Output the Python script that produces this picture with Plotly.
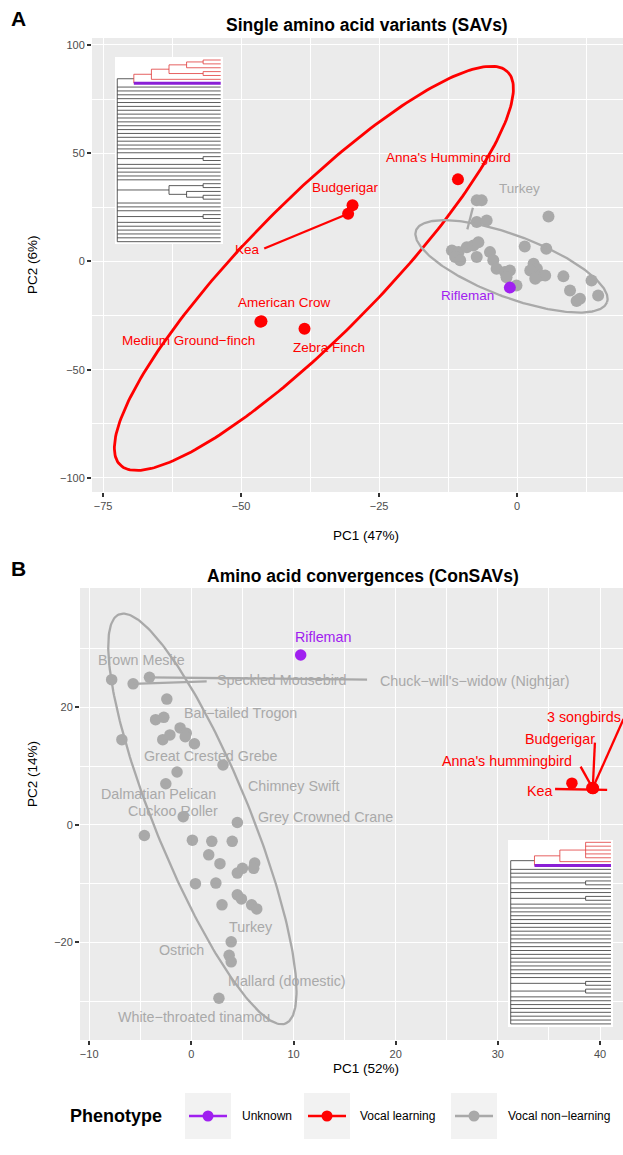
import numpy as np
import plotly.graph_objects as go

W, H = 623, 1155
FONT = "Liberation Sans, Arial, Helvetica, sans-serif"
PANEL = "#EBEBEB"
COL = {"U": "#A020F0", "VL": "#FF0000", "VNL": "#A9A9A9"}
TREE_COL = {"U": "#8A1FD6", "VL": "#E03A3A", "VNL": "#333333"}

# ---------------- Panel A : SAVs ----------------
a_xticks = [-75, -50, -25, 0]
a_yticks = [-100, -50, 0, 50, 100]
a_xminor = [-62.5, -37.5, -12.5, 12.5]
a_yminor = [-75, -25, 25, 75]

a_vl_names = ["Anna's Hummingbird", "Budgerigar", "Kea", "American Crow", "Medium Ground-finch", "Zebra Finch"]
a_vl_pc1 = [-10.7, -29.8, -30.6, -46.3, -46.5, -38.5]
a_vl_pc2 = [37.9, 25.9, 22.0, -27.6, -27.9, -31.1]
a_unk_pc1 = [-1.3]
a_unk_pc2 = [-12.1]
a_vnl_pc1 = [-7.3, -6.4, 5.7, -7.3, -5.5, -11.8, -10.6, -11.2, -10.3, -9.1, -7.9, -7.0, -7.3, -4.9, -4.3,
             -3.7, -2.2, -1.3, -1.9, -0.1, 1.4, 5.3, 3.0, 3.6, 2.4, 4.2, 5.1, 3.3, 8.4, 9.6, 11.4, 10.8, 13.5, 14.7]
a_vnl_pc2 = [28.2, 28.2, 20.8, 18.2, 18.9, 5.1, 4.3, 2.0, 0.5, 6.6, 7.4, 8.9, 2.0, 4.3, 0.5,
             -3.4, -4.9, -4.2, -7.3, -11.1, 6.9, 5.9, -1.1, -3.4, -4.2, -6.5, -6.5, -8.0, -6.9, -13.4, -17.2, -18.3, -8.8, -15.7]

a_lab_text = ["Anna's Hummingbird", "Budgerigar", "Kea", "American Crow", "Medium Ground−finch",
              "Zebra Finch", "Turkey", "Rifleman"]
a_lab_pheno = ["VL", "VL", "VL", "VL", "VL", "VL", "VNL", "U"]
a_lab_pc1 = [-12.5, -31.0, -48.9, -42.2, -59.6, -34.1, 0.5, -8.9]
a_lab_pc2 = [48.0, 34.2, 5.5, -18.9, -36.5, -39.7, 33.7, -15.7]

a_seg_pheno = ["VL", "VNL"]
a_seg_pc1 = [(-45.8, -30.6), (-9.0, -8.0)]
a_seg_pc2 = [(6.0, 22.0), (14.8, 24.8)]

a_ell_pheno = ["VL", "VNL"]
a_ell_centre = [(-36.8, -3.2), (-1.0, -2.3)]
a_ell_axis1 = [(35.1, 90.8), (17.3, -16.6)]
a_ell_axis2 = [(8.64, -21.75), (-1.98, -13.4)]

# ---------------- Panel B : ConSAVs ----------------
b_xticks = [-10, 0, 10, 20, 30, 40]
b_yticks = [-20, 0, 20]
b_xminor = [-5, 5, 15, 25, 35]
b_yminor = [-30, -10, 10, 30]

b_vl_pc1 = [37.25, 39.3, 39.2, 39.35, 39.3, 39.25]
b_vl_pc2 = [7.1, 6.25, 6.3, 6.2, 6.3, 6.2]
b_unk_pc1 = [10.7]
b_unk_pc2 = [28.9]
b_vnl_pc1 = [-7.8, -5.7, -4.1, -2.4, -3.5, -2.7, -6.8, -2.8, -2.1, -1.1, -0.5, -0.6, 0.3, 3.1, -1.4, -2.5,
             -0.8, 4.5, -4.6, 0.1, 2.0, 4.0, 1.7, 2.8, 4.5, 5.0, 6.2, 6.1, 0.4, 2.4, 4.5, 4.9, 5.9, 6.4,
             3.0, 3.9, 3.7, 3.9, 2.7]
b_vnl_pc2 = [24.7, 24.0, 25.1, 21.4, 17.9, 18.3, 14.5, 14.5, 15.3, 16.5, 15.6, 15.0, 13.8, 10.2, 9.0, 7.0,
             1.4, 0.4, -1.8, -2.6, -2.8, -2.8, -5.1, -6.6, -8.2, -7.4, -6.5, -7.4, -10.0, -9.9, -11.9, -12.6,
             -13.6, -14.3, -13.6, -19.9, -22.2, -23.3, -29.5]

b_lab_text = ["Rifleman", "Brown Mesite", "Speckled Mousebird", "Chuck−will's−widow (Nightjar)",
              "Bar−tailed Trogon", "Great Crested Grebe", "Chimney Swift", "Dalmatian Pelican",
              "Cuckoo Roller", "Grey Crowned Crane", "Turkey", "Ostrich", "Mallard (domestic)",
              "White−throated tinamou", "3 songbirds", "Budgerigar", "Anna's hummingbird", "Kea"]
b_lab_pheno = ["U"] + ["VNL"] * 13 + ["VL"] * 4
b_lab_pc1 = [12.9, -4.9, 8.9, 27.7, 4.8, 1.9, 10.0, -3.2, -1.8, 13.1, 5.8, -1.0, 9.4, 0.3,
             38.4, 36.1, 30.9, 34.1]
b_lab_pc2 = [32.0, 28.1, 24.7, 24.5, 19.1, 11.8, 6.6, 5.3, 2.3, 1.3, -17.4, -21.3, -26.5, -32.7,
             18.3, 14.6, 10.8, 5.8]

b_seg_pheno = ["VNL", "VNL", "VL", "VL", "VL", "VL"]
b_seg_pc1 = [(-4.1, 17.2), (-5.7, 1.5), (42.3, 39.3), (39.5, 39.3), (38.1, 39.2), (35.6, 40.7)]
b_seg_pc2 = [(25.1, 24.7), (24.0, 24.4), (18.0, 6.3), (14.0, 6.5), (9.9, 6.5), (6.1, 5.96)]

b_ell_pheno = ["VNL"]
b_ell_centre = [(1.08, 1.02)]
b_ell_axis1 = [(8.15, -34.8)]
b_ell_axis2 = [(4.3, 3.05)]

# ---------------- inset trees (48 species) ----------------
tree_pheno = ["VL"] * 6 + ["U"] + ["VNL"] * 41


def leaves_range(a, b):
    return list(range(a, b))


tree_a = (0.0, [(0.16, [(0.33, [(0.5, [(0.67, [(0.83, [0, 1]), 2]), (0.83, [3, 4])]), 5]), 6])]
          + leaves_range(7, 25) + [(0.83, [25, 26])] + leaves_range(27, 32)
          + [(0.5, [(0.83, [32, 33]), (0.67, [34, (0.83, [35, 36])])])]
          + leaves_range(37, 40) + [(0.83, [40, 41])] + leaves_range(42, 48))

tree_b = (0.0, [(0.237, [(0.49, [(0.747, [0, 1, 2, 3, 4]), 5]), 6])]
          + leaves_range(7, 10) + [(0.747, [10, 11])] + leaves_range(12, 14) + [(0.747, [14, 15])]
          + leaves_range(16, 36) + [(0.747, [36, 37]), (0.747, [38, 39])] + leaves_range(40, 48))

legend_keys = ["U", "VL", "VNL"]
legend_text = ["Unknown", "Vocal learning", "Vocal non−learning"]


# ---------------- helpers ----------------
def px_x(px):
    return px / W


def px_y(py):
    return 1 - py / H


def ellipse(c, a1, a2, n=260):
    t = np.linspace(0, 2 * np.pi, n)
    return (c[0] + np.cos(t) * a1[0] + np.sin(t) * a2[0],
            c[1] + np.cos(t) * a1[1] + np.sin(t) * a2[1])


def clade_info(node):
    if isinstance(node, int):
        return {tree_pheno[node]}
    s = set()
    for ch in node[1]:
        s |= clade_info(ch)
    return s


def draw_tree(node, segs):
    """returns row position of node; collects segments per style"""
    if isinstance(node, int):
        return float(node)
    depth, children = node
    ys = []
    for ch in children:
        y = draw_tree(ch, segs)
        ys.append(y)
        if isinstance(ch, int):
            key = tree_pheno[ch]
            x_end = 1.0
        else:
            ph = clade_info(ch)
            key = list(ph)[0] if len(ph) == 1 else "VNL"
            x_end = ch[0]
        segs.setdefault(key, ([], []))
        segs[key][0].extend([depth, x_end, None])
        segs[key][1].extend([y, y, None])
    ph = clade_info(node)
    vkey = "VNL" if "VNL" in ph else "VL"
    segs.setdefault(vkey, ([], []))
    segs[vkey][0].extend([depth, depth, None])
    segs[vkey][1].extend([min(ys), max(ys), None])
    return (min(ys) + max(ys)) / 2


fig = go.Figure()


def add_points(xa, ya, pc1, pc2, pheno, size):
    fig.add_trace(go.Scatter(x=pc1, y=pc2, mode="markers", xaxis=xa, yaxis=ya,
                             marker=dict(color=COL[pheno], size=size, line=dict(width=0)),
                             showlegend=False, hoverinfo="skip"))


def add_panel(xa, ya, ell_ph, ell_c, ell_a1, ell_a2, seg_ph, seg_x, seg_y,
              vnl, unk, vl, lab_t, lab_ph, lab_x, lab_y, lab_size, pt_size):
    add_points(xa, ya, vnl[0], vnl[1], "VNL", pt_size)
    add_points(xa, ya, vl[0], vl[1], "VL", pt_size)
    add_points(xa, ya, unk[0], unk[1], "U", pt_size)
    for ph, c, a1, a2 in zip(ell_ph, ell_c, ell_a1, ell_a2):
        ex, ey = ellipse(c, a1, a2)
        fig.add_trace(go.Scatter(x=ex, y=ey, mode="lines", xaxis=xa, yaxis=ya,
                                 line=dict(color=COL[ph], width=2.8 if ph == "VL" else 2.3),
                                 showlegend=False, hoverinfo="skip"))
    for ph, sx, sy in zip(seg_ph, seg_x, seg_y):
        fig.add_trace(go.Scatter(x=list(sx), y=list(sy), mode="lines", xaxis=xa, yaxis=ya,
                                 line=dict(color=COL[ph], width=2.3),
                                 showlegend=False, hoverinfo="skip"))
    for t, ph, lx, ly in zip(lab_t, lab_ph, lab_x, lab_y):
        fig.add_annotation(x=lx, y=ly, xref=xa, yref=ya, text=t, showarrow=False,
                           font=dict(family=FONT, size=lab_size, color=COL[ph]))


add_panel("x", "y", a_ell_pheno, a_ell_centre, a_ell_axis1, a_ell_axis2,
          a_seg_pheno, a_seg_pc1, a_seg_pc2,
          (a_vnl_pc1, a_vnl_pc2), (a_unk_pc1, a_unk_pc2), (a_vl_pc1, a_vl_pc2),
          a_lab_text, a_lab_pheno, a_lab_pc1, a_lab_pc2, 13.5, 12)
add_panel("x2", "y2", b_ell_pheno, b_ell_centre, b_ell_axis1, b_ell_axis2,
          b_seg_pheno, b_seg_pc1, b_seg_pc2,
          (b_vnl_pc1, b_vnl_pc2), (b_unk_pc1, b_unk_pc2), (b_vl_pc1, b_vl_pc2),
          b_lab_text, b_lab_pheno, b_lab_pc1, b_lab_pc2, 14.3, 11.5)


def add_tree(tree, xa, ya, xr, yr):
    fig.add_trace(go.Scatter(x=[xr[0], xr[1], xr[1], xr[0], xr[0]],
                             y=[yr[0], yr[0], yr[1], yr[1], yr[0]],
                             fill="toself", fillcolor="white", mode="lines",
                             line=dict(width=0, color="white"), xaxis=xa, yaxis=ya,
                             showlegend=False, hoverinfo="skip"))
    segs = {}
    draw_tree(tree, segs)
    for key in ["VNL", "VL", "U"]:
        if key in segs:
            fig.add_trace(go.Scatter(x=segs[key][0], y=segs[key][1], mode="lines",
                                     xaxis=xa, yaxis=ya,
                                     line=dict(color=TREE_COL[key], width=3 if key == "U" else 0.8),
                                     showlegend=False, hoverinfo="skip"))


inset_a_xr, inset_a_yr = (-0.022, 1.022), (47.6, -0.78)
inset_b_xr, inset_b_yr = (-0.027, 1.02), (47.8, -0.6)
add_tree(tree_a, "x3", "y3", inset_a_xr, inset_a_yr)
add_tree(tree_b, "x4", "y4", inset_b_xr, inset_b_yr)

# ---------------- legend (manual, ggplot-like) ----------------
leg_y = 1116
key_centres = [208, 327, 474]
text_left = [240, 358, 506]
shapes = []
for k, cx, tx, lt in zip(legend_keys, key_centres, text_left, legend_text):
    shapes.append(dict(type="rect", xref="x5", yref="y5", x0=cx - 23, x1=cx + 23,
                       y0=leg_y - 23, y1=leg_y + 23, fillcolor="#F2F2F2",
                       line=dict(width=0), layer="below"))
    fig.add_trace(go.Scatter(x=[cx - 19, cx + 19], y=[leg_y, leg_y], mode="lines",
                             xaxis="x5", yaxis="y5", line=dict(color=COL[k], width=2.5),
                             showlegend=False, hoverinfo="skip"))
    fig.add_trace(go.Scatter(x=[cx], y=[leg_y], mode="markers", xaxis="x5", yaxis="y5",
                             marker=dict(color=COL[k], size=11), showlegend=False, hoverinfo="skip"))
    fig.add_annotation(x=tx, y=leg_y, xref="x5", yref="y5", text=lt, showarrow=False,
                       xanchor="left", font=dict(family=FONT, size=12, color="black"))
fig.add_annotation(x=68, y=leg_y, xref="x5", yref="y5", text="<b>Phenotype</b>", showarrow=False,
                   xanchor="left", font=dict(family=FONT, size=18, color="black"))

# panel backgrounds
for xa, ya in [("x", "y"), ("x2", "y2")]:
    shapes.append(dict(type="rect", xref=f"{xa} domain", yref=f"{ya} domain", x0=0, x1=1, y0=0, y1=1,
                       fillcolor=PANEL, line=dict(width=0), layer="below"))


# ---------------- axes ----------------
def axis(domain, rng, ticks, minor, anchor):
    return dict(domain=domain, range=rng, anchor=anchor, tickmode="array", tickvals=ticks,
                ticks="outside", ticklen=4, tickwidth=2, tickcolor="#333333",
                tickfont=dict(family=FONT, size=11, color="#4D4D4D"),
                showgrid=True, gridcolor="white", gridwidth=1.3, zeroline=False, showline=False,
                minor=dict(tickmode="array", tickvals=minor, showgrid=True, gridcolor="white",
                           gridwidth=0.6, ticks=""))


hidden = dict(visible=False, showgrid=False, zeroline=False)

fig.update_layout(
    width=W, height=H, autosize=False,
    margin=dict(l=0, r=0, t=0, b=0),
    paper_bgcolor="white", plot_bgcolor="white",
    showlegend=False,
    font=dict(family=FONT),
    xaxis=axis([px_x(92), 1.0], [-77.0, 19.2], a_xticks, a_xminor, "y"),
    yaxis=axis([px_y(492), px_y(38)], [-106.5, 103.2], a_yticks, a_yminor, "x"),
    xaxis2=axis([px_x(80), 1.0], [-10.9, 42.25], b_xticks, b_xminor, "y2"),
    yaxis2=axis([px_y(1040), px_y(588)], [-36.6, 40.3], b_yticks, b_yminor, "x2"),
    xaxis3=dict(domain=[px_x(115), px_x(223)], range=list(inset_a_xr), anchor="y3", **hidden),
    yaxis3=dict(domain=[px_y(244), px_y(57)], range=list(inset_a_yr), anchor="x3", **hidden),
    xaxis4=dict(domain=[px_x(508), px_x(613)], range=list(inset_b_xr), anchor="y4", **hidden),
    yaxis4=dict(domain=[px_y(1027), px_y(840)], range=list(inset_b_yr), anchor="x4", **hidden),
    xaxis5=dict(domain=[0, 1], range=[0, W], anchor="y5", **hidden),
    yaxis5=dict(domain=[0, px_y(1074)], range=[H, 1074], anchor="x5", **hidden),
    shapes=shapes,
)


# titles / panel tags / axis titles
def ann(text, px, py, size, bold=False, angle=0, color="black", xanchor="center"):
    fig.add_annotation(x=px_x(px), y=px_y(py), xref="paper", yref="paper",
                       text=f"<b>{text}</b>" if bold else text, showarrow=False, textangle=angle,
                       xanchor=xanchor, yanchor="middle",
                       font=dict(family=FONT, size=size, color=color))


ann("A", 18, 18, 21, bold=True)
ann("B", 18, 568, 21, bold=True)
ann("Single amino acid variants (SAVs)", 367, 25, 17.5, bold=True)
ann("Amino acid convergences (ConSAVs)", 363, 576, 17.5, bold=True)
ann("PC1 (47%)", 366, 535, 13.5)
ann("PC2 (6%)", 32, 265, 13.5, angle=-90)
ann("PC1 (52%)", 366, 1068, 13.5)
ann("PC2 (14%)", 32, 774, 13.5, angle=-90)

fig.write_html("out.html")
